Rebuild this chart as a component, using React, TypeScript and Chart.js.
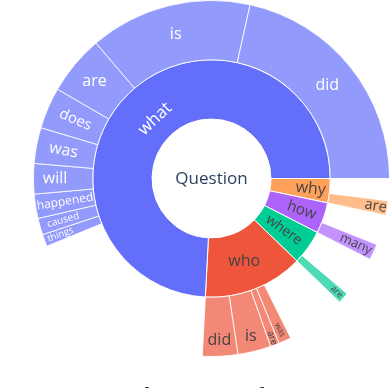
import React, { useEffect, useRef } from "react";
import { Chart, registerables } from "chart.js";

Chart.register(...registerables);

// ---------------- data ----------------
const rootLabel = "Question";
const parentWords = ["what", "who", "where", "how", "why"];
const parentShare = [74.1, 13.6, 4.7, 4.2, 3.3];

const whatWords = ["did", "is", "are", "does", "was", "will", "happened", "caused", "things"];
const whatShare = [21.5, 14.7, 5.4, 3.75, 3.25, 2.75, 2.2, 1.5, 1.1];
const whoWords = ["did", "is", "are", "was"];
const whoShare = [3.2, 3.0, 0.8, 1.15];
const whereWords = ["are"];
const whereShare = [1.0];
const howWords = ["many"];
const howShare = [1.45];
const whyWords = ["are"];
const whyShare = [1.3];

const childWords = [whatWords, whoWords, whereWords, howWords, whyWords];
const childShare = [whatShare, whoShare, whereShare, howShare, whyShare];

const captionText = "Distribution of questions for 5";

// ---------------- styles ----------------
const parentColors = ["#636efa", "#EF553B", "#00cc96", "#ab63fa", "#FFA15A"];
const leafOpacity = 0.7;
const FONT = '"Open Sans", "DejaVu Sans", sans-serif';

type Orient = "h" | "r" | "t";
const labelStyle: Record<string, { o: Orient; size: number }> = {
  what: { o: "t", size: 17 },
  who: { o: "h", size: 16 },
  where: { o: "r", size: 14 },
  how: { o: "r", size: 15 },
  why: { o: "r", size: 16 },
  "what/did": { o: "h", size: 16 },
  "what/is": { o: "h", size: 16 },
  "what/are": { o: "h", size: 16 },
  "what/does": { o: "r", size: 15 },
  "what/was": { o: "r", size: 16 },
  "what/will": { o: "r", size: 16 },
  "what/happened": { o: "r", size: 12 },
  "what/caused": { o: "r", size: 10 },
  "what/things": { o: "r", size: 9.5 },
  "who/did": { o: "h", size: 16 },
  "who/is": { o: "h", size: 16 },
  "who/are": { o: "r", size: 9.5 },
  "who/was": { o: "r", size: 8 },
  "where/are": { o: "r", size: 9 },
  "how/many": { o: "r", size: 13 },
  "why/are": { o: "r", size: 14.5 },
};

function mixWhite(hex: string, alpha: number) {
  const n = parseInt(hex.slice(1), 16);
  const r = (n >> 16) & 255, g = (n >> 8) & 255, b = n & 255;
  const m = (c: number) => Math.round(alpha * c + (1 - alpha) * 255);
  return `rgb(${m(r)},${m(g)},${m(b)})`;
}

type Node = { key: string | null; word: string; value: number; color: string; text: string };

function buildRings() {
  // Chart.js draws clockwise from the start angle; the reference runs counter-clockwise
  const order = parentWords.map((_, i) => i).reverse();
  const textColor = (i: number) => (i === 0 ? "#ffffff" : "#444444");
  const middle: Node[] = order.map((i) => ({
    key: parentWords[i],
    word: parentWords[i],
    value: parentShare[i],
    color: parentColors[i],
    text: textColor(i),
  }));
  const outer: Node[] = [];
  order.forEach((i) => {
    const words = childWords[i];
    const vals = childShare[i];
    const used = vals.reduce((a, b) => a + b, 0);
    const gap = parentShare[i] - used;
    if (gap > 0) outer.push({ key: null, word: "", value: gap, color: "rgba(0,0,0,0)", text: "" });
    for (let k = words.length - 1; k >= 0; k--) {
      outer.push({
        key: parentWords[i] + "/" + words[k],
        word: words[k],
        value: vals[k],
        color: mixWhite(parentColors[i], leafOpacity),
        text: textColor(i),
      });
    }
  });
  return { middle, outer };
}

function upright(a: number) {
  let d = (a * 180) / Math.PI;
  d = ((d % 180) + 180) % 180;
  if (d > 90) d -= 180;
  return (d * Math.PI) / 180;
}

const labelPlugin = {
  id: "sunburstLabels",
  afterDatasetsDraw(chart: any) {
    const ctx: CanvasRenderingContext2D = chart.ctx;
    let cx = 0, cy = 0;
    chart.data.datasets.forEach((ds: any, di: number) => {
      const meta = chart.getDatasetMeta(di);
      const nodes: Node[] = ds.nodes;
      meta.data.forEach((arc: any, j: number) => {
        const node = nodes[j];
        const p = arc.getProps(["x", "y", "startAngle", "endAngle", "innerRadius", "outerRadius"], true);
        cx = p.x;
        cy = p.y;
        if (!node || !node.key) return;
        const st = labelStyle[node.key];
        if (!st) return;
        const delta = p.endAngle - p.startAngle;
        const mid = (p.startAngle + p.endAngle) / 2;
        const half = Math.min(delta / 2, Math.PI / 2);
        const ring = (p.outerRadius - p.innerRadius) / p.outerRadius;
        ctx.save();
        ctx.font = `${st.size}px ${FONT}`;
        const w = ctx.measureText(node.word).width;
        const h = st.size * 0.85;
        let rc: number;
        let rot: number;
        if (st.o === "h") {
          const rIns = Math.max(0, Math.min(1 / (1 + 1 / Math.sin(half)), ring / 2));
          rc = 1 - rIns;
          rot = 0;
        } else {
          const a = st.o === "r" ? w / h : h / w;
          const q = a + 1 / (2 * Math.tan(half));
          const b = Math.min(1 / (Math.sqrt(q * q + 0.5) + q), ring / (Math.sqrt(a * a + ring / 2) + a));
          rc = Math.cos(b) - a * b;
          rot = upright(st.o === "r" ? mid : mid + Math.PI / 2);
        }
        const r = p.outerRadius * rc;
        ctx.translate(p.x + r * Math.cos(mid), p.y + r * Math.sin(mid));
        ctx.rotate(rot);
        ctx.fillStyle = node.text;
        ctx.textAlign = "center";
        ctx.textBaseline = "middle";
        ctx.fillText(node.word, 0, 0);
        ctx.restore();
      });
    });
    ctx.save();
    ctx.font = `17px ${FONT}`;
    ctx.fillStyle = "#2a3f5f";
    ctx.textAlign = "center";
    ctx.textBaseline = "middle";
    ctx.fillText(rootLabel, cx, cy + 1);
    ctx.restore();
  },
};

export default function App() {
  const ref = useRef<HTMLCanvasElement | null>(null);
  useEffect(() => {
    if (!ref.current) return;
    const { middle, outer } = buildRings();
    const chart = new Chart(ref.current, {
      type: "doughnut",
      data: {
        labels: outer.map((n) => n.word),
        datasets: [
          {
            data: outer.map((n) => n.value),
            backgroundColor: outer.map((n) => n.color),
            borderColor: "rgba(255,255,255,0.85)",
            borderWidth: outer.map((n) => (n.key ? 1 : 0)),
            hoverOffset: 0,
            nodes: outer,
          } as any,
          {
            data: middle.map((n) => n.value),
            backgroundColor: middle.map((n) => n.color),
            borderColor: "#ffffff",
            borderWidth: 1,
            hoverOffset: 0,
            nodes: middle,
          } as any,
        ],
      },
      options: {
        responsive: false,
        animation: false,
        rotation: 90,
        cutout: "33.4%",
        events: [],
        layout: { padding: { left: 33, top: 0, right: 0, bottom: 31 } },
        plugins: { legend: { display: false }, tooltip: { enabled: false } },
      },
      plugins: [labelPlugin],
    });
    return () => chart.destroy();
  }, []);

  return (
    <div style={{ position: "fixed", left: 0, top: 0, width: 390, height: 388, overflow: "hidden", background: "#fff" }}>
      <canvas ref={ref} width={390} height={388} style={{ display: "block", width: 390, height: 388 }} />
      <div
        style={{
          position: "absolute",
          left: 1,
          top: 382,
          whiteSpace: "nowrap",
          font: '25px "Liberation Serif", serif',
          lineHeight: "30px",
          color: "#1a1a1a",
        }}
      >
        {captionText}
      </div>
    </div>
  );
}
